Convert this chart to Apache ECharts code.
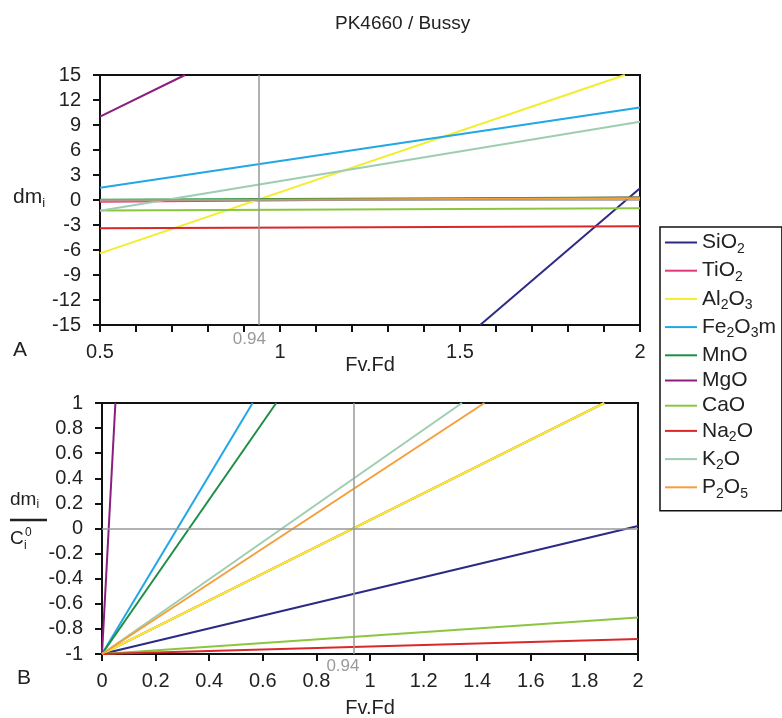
<!DOCTYPE html>
<html><head><meta charset="utf-8">
<script src="https://cdn.jsdelivr.net/npm/echarts@6/dist/echarts.min.js"></script>
<style>html,body{margin:0;padding:0;background:#fff}#c{width:782px;height:718px}</style>
</head><body><div id="c"></div>
<script>
// ---- data ----
const oxides = ['SiO2','TiO2','Al2O3','Fe2O3m','MnO','MgO','CaO','Na2O','K2O','P2O5'];
const legendRich = {
  SiO2: '{n|SiO}{s|2}', TiO2: '{n|TiO}{s|2}', Al2O3: '{n|Al}{s|2}{n|O}{s|3}',
  Fe2O3m: '{n|Fe}{s|2}{n|O}{s|3}{n|m}', MnO: '{n|MnO}', MgO: '{n|MgO}', CaO: '{n|CaO}',
  Na2O: '{n|Na}{s|2}{n|O}', K2O: '{n|K}{s|2}{n|O}', P2O5: '{n|P}{s|2}{n|O}{s|5}'
};
// Panel A: dm_i vs Fv.Fd (visible end points of each line)
const aSiO2   = [[1.556, -15], [2, 1.4]];
const aTiO2   = [[0.5, -0.2], [2, 0.3]];
const aAl2O3  = [[0.5, -6.4], [1.958, 15]];
const aFe2O3m = [[0.5, 1.48], [2, 11.1]];
const aMnO    = [[0.5, 0.03], [2, 0.29]];
const aMgO    = [[0.5, 10], [0.736, 15]];
const aCaO    = [[0.5, -1.25], [2, -1.0]];
const aNa2O   = [[0.5, -3.4], [2, -3.15]];
const aK2O    = [[0.5, -1.28], [2, 9.4]];
const aP2O5   = [[0.5, -0.05], [2, 0.2]];
// Panel B: dm_i / C_i^0 vs Fv.Fd
const bSiO2   = [[0, -1], [2, 0.02]];
const bTiO2   = [[0, -1], [1.874, 1]];
const bAl2O3  = [[0, -1], [1.874, 1]];
const bFe2O3m = [[0, -1], [0.562, 1]];
const bMnO    = [[0, -1], [0.65, 1]];
const bMgO    = [[0, -1], [0.05, 1]];
const bCaO    = [[0, -1], [2, -0.71]];
const bNa2O   = [[0, -1], [2, -0.88]];
const bK2O    = [[0, -1], [1.343, 1]];
const bP2O5   = [[0, -1], [1.427, 1]];
const panelA = [aSiO2, aTiO2, aAl2O3, aFe2O3m, aMnO, aMgO, aCaO, aNa2O, aK2O, aP2O5];
const panelB = [bSiO2, bTiO2, bAl2O3, bFe2O3m, bMnO, bMgO, bCaO, bNa2O, bK2O, bP2O5];
const isocon = 0.94;
const aX = {min: 0.5, max: 2, interval: 0.1};
const aY = {min: -15, max: 15, interval: 3};
const bX = {min: 0, max: 2, interval: 0.2};
const bY = {min: -1, max: 1, interval: 0.2};

// ---- styles ----
const colors = ['#2b2b86','#e2387c','#f2ee2f','#22a7e6','#1d8f45','#8a1f7e','#8cc63e','#d9282a','#9fcdb1','#f59f3a'];
const FF = '"Liberation Sans", Arial, sans-serif';
const FS = 20;

const chart = echarts.init(document.getElementById('c'), null, {renderer: 'canvas'});

function xAxis(idx, spec, nameGap, fmt) {
  return {
    type: 'value', gridIndex: idx, min: spec.min, max: spec.max, interval: spec.interval,
    name: 'Fv.Fd', nameLocation: 'middle', nameGap: nameGap, nameMoveOverlap: false,
    nameTextStyle: {color: '#222', fontSize: FS, fontFamily: FF},
    axisLine: {show: true, onZero: false, lineStyle: {color: '#111', width: 2}},
    axisTick: {show: true, inside: false, length: 7, lineStyle: {color: '#111', width: 2}},
    axisLabel: {color: '#222', fontSize: FS, fontFamily: FF, margin: 17, formatter: fmt},
    splitLine: {show: false}
  };
}
function yAxis(idx, spec) {
  return {
    type: 'value', gridIndex: idx, min: spec.min, max: spec.max, interval: spec.interval,
    axisLine: {show: true, onZero: false, lineStyle: {color: '#111', width: 2}},
    axisTick: {show: true, inside: false, length: 7, lineStyle: {color: '#111', width: 2}},
    axisLabel: {color: '#222', fontSize: FS, fontFamily: FF, margin: 19,
      formatter: v => String(Math.round(v * 10) / 10)},
    splitLine: {show: false}
  };
}

const series = [];
function refSeries(idx, withZero, labelOffset, labelDist) {
  const data = [{xAxis: isocon, label: {show: true, position: 'start', formatter: String(isocon),
    color: '#9a9a9a', fontSize: 17, fontFamily: FF, distance: labelDist, offset: labelOffset}}];
  if (withZero) data.push({yAxis: 0, label: {show: false}});
  return {
    type: 'line', xAxisIndex: idx, yAxisIndex: idx, data: [], z: 1, silent: true,
    markLine: {silent: true, symbol: 'none', animation: false,
      lineStyle: {color: '#999', width: 1.5, type: 'solid'}, data: data}
  };
}
series.push(refSeries(0, true, [-9, 0], 6));
series.push(refSeries(1, true, [-11, 0], 4));
oxides.forEach((name, i) => {
  [panelA, panelB].forEach((panel, g) => {
    series.push({
      name: name, type: 'line', xAxisIndex: g, yAxisIndex: g, data: panel[i],
      symbol: 'none', showSymbol: false, clip: true, z: 3, animation: false,
      lineStyle: {color: colors[i], width: 2}, itemStyle: {color: colors[i]}
    });
  });
});

// subscript: shift down by `d` px without changing the token height
const subStyle = (fs, d) => ({fontSize: fs, lineHeight: fs, padding: [d, 0, -d, 0], fontFamily: FF, color: '#222', fill: '#222'});

chart.setOption({
  backgroundColor: '#fff',
  animation: false,
  title: {text: 'PK4660 / Bussy', left: 330, top: 9,
    textStyle: {color: '#222', fontSize: 19, fontWeight: 'normal', fontFamily: FF}},
  grid: [
    {left: 100, top: 75, width: 540, height: 250, show: true, borderColor: '#111', borderWidth: 2,
     backgroundColor: 'transparent', outerBoundsMode: 'none', containLabel: false},
    {left: 102, top: 403, width: 536, height: 251, show: true, borderColor: '#111', borderWidth: 2,
     backgroundColor: 'transparent', outerBoundsMode: 'none', containLabel: false}
  ],
  xAxis: [
    xAxis(0, aX, 30, v => (Math.abs(v * 2 - Math.round(v * 2)) < 1e-6 ? String(Math.round(v * 10) / 10) : '')),
    xAxis(1, bX, 44, v => String(Math.round(v * 10) / 10))
  ],
  yAxis: [yAxis(0, aY), yAxis(1, bY)],
  legend: {
    data: oxides, orient: 'vertical', left: 660, top: 227, selectedMode: false,
    padding: [5, 6, 10, 5], itemGap: 4.2, itemWidth: 32, itemHeight: 2, icon: 'rect',
    borderColor: '#111', borderWidth: 1.5, backgroundColor: '#fff',
    formatter: n => legendRich[n],
    textStyle: {fontFamily: FF, color: '#222',
      rich: {
        n: {fontSize: 21, lineHeight: 22, fontFamily: FF, color: '#222'},
        s: subStyle(14, 6.5)
      }}
  },
  graphic: [
    {type: 'text', left: 13, top: 340, style: {text: 'A', fontSize: 21, fontFamily: FF, fill: '#222'}},
    {type: 'text', left: 17, top: 668, style: {text: 'B', fontSize: 21, fontFamily: FF, fill: '#222'}},
    {type: 'text', left: 13, top: 187, style: {text: '{n|dm}{s|i}', fontFamily: FF, fill: '#222',
      rich: {n: {fontSize: 21, lineHeight: 24, fontFamily: FF, fill: '#222'}, s: subStyle(13, 5.5)}}},
    {type: 'text', left: 10, top: 490, style: {text: '{n|dm}{s|i}', fontFamily: FF, fill: '#222',
      rich: {n: {fontSize: 19, lineHeight: 22, fontFamily: FF, fill: '#222'}, s: subStyle(12, 5)}}},
    {type: 'line', shape: {x1: 10, y1: 520, x2: 47, y2: 520}, style: {stroke: '#222', lineWidth: 2.5}},
    {type: 'text', left: 10, top: 529, style: {text: 'C', fontSize: 19, fontFamily: FF, fill: '#222'}},
    {type: 'text', left: 24, top: 540, style: {text: 'i', fontSize: 12, fontFamily: FF, fill: '#222'}},
    {type: 'text', left: 25, top: 527, style: {text: '0', fontSize: 12, fontFamily: FF, fill: '#222'}}
  ],
  series: series
});
</script></body></html>
